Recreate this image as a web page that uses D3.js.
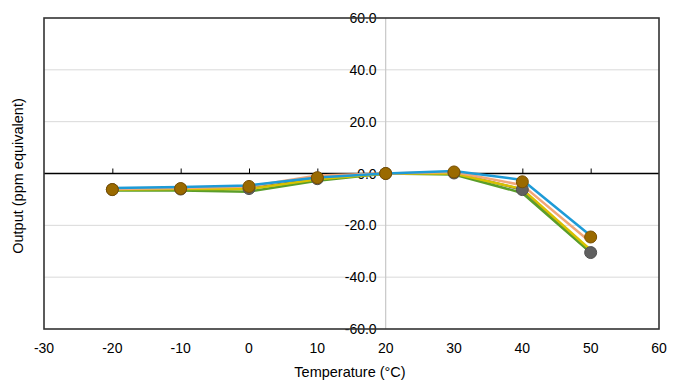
<!DOCTYPE html>
<html><head><meta charset="utf-8">
<script src="https://cdn.jsdelivr.net/npm/d3@7"></script>
<style>body{margin:0;background:#fff}svg{display:block}text{font-family:"Liberation Sans",Arial,sans-serif}</style>
</head><body><svg id="c" width="686" height="385"></svg>
<script>
const temps = [-20,-10,0,10,20,30,40,50];
const xTicks = [-30,-20,-10,0,10,20,30,40,50,60];
const yTicks = [-60,-40,-20,0,20,40,60];
const seriesBlue   = [-5.6,-5.2,-4.6,-1.5,0,1.0,-2.5,-24.0];
const seriesSalmon = [-6.0,-5.6,-5.0,-0.8,0,0.6,-4.5,-26.5];
const seriesYellow = [-6.2,-6.0,-6.0,-2.2,0,0.0,-6.0,-29.5];
const seriesGreen  = [-6.6,-6.6,-7.0,-2.8,0,-0.4,-7.5,-30.5];
const seriesGray   = [-6.2,-6.0,-5.8,-2.0,0,0.2,-6.2,-30.5];
const seriesBrown  = [-6.2,-5.8,-5.0,-1.6,0,0.6,-3.2,-24.5];
const lines = [
  {v:seriesGray,c:"#606060",m:true,mf:"#606060",ms:"#505050"},
  {v:seriesGreen,c:"#5a9e2a"},
  {v:seriesYellow,c:"#d8c200"},
  {v:seriesSalmon,c:"#f2a77a"},
  {v:seriesBlue,c:"#1e9bd7"},
  {v:seriesBrown,c:"#9a6a00",m:true,mf:"#9a6a00",ms:"#7a5000",noline:true}
];
const svg = d3.select("#c");
const L=44,R=659,T=18,B=329;
const x = d3.scaleLinear().domain([-30,60]).range([L,R]);
const y = d3.scaleLinear().domain([-60,60]).range([B,T]);
svg.append("g").selectAll("line").data(yTicks.filter(d=>d!==0&&Math.abs(d)!==60)).join("line")
  .attr("x1",L).attr("x2",R).attr("y1",d=>y(d)).attr("y2",d=>y(d)).attr("stroke","#d9d9d9").attr("stroke-width",1);
svg.append("line").attr("x1",x(20)).attr("x2",x(20)).attr("y1",T).attr("y2",B).attr("stroke","#c8c8c8").attr("stroke-width",1.2);
svg.append("g").selectAll("text").data(yTicks).join("text")
  .attr("x",x(20)-9).attr("y",d=>y(d)).attr("dy","0.36em").attr("text-anchor","end")
  .attr("font-size",14).attr("fill","#000").text(d=>d.toFixed(1));
const xAxis = d3.axisTop(x).tickValues(temps.filter(d=>d!==20)).tickSize(5).tickFormat("");
const gx = svg.append("g").attr("transform",`translate(0,${y(0)})`).call(xAxis);
gx.select(".domain").remove();
gx.selectAll("line").attr("stroke","#000").attr("stroke-width",1);
svg.append("line").attr("x1",L).attr("x2",R).attr("y1",y(0)).attr("y2",y(0)).attr("stroke","#000").attr("stroke-width",1.3);
svg.append("g").selectAll("text").data(xTicks).join("text")
  .attr("x",d=>x(d)).attr("y",353).attr("text-anchor","middle").attr("font-size",14).attr("fill","#000").text(d=>d);
const lg = d3.line().x((d,i)=>x(temps[i])).y(d=>y(d));
lines.forEach(s=>{
  if(!s.noline) svg.append("path").attr("d",lg(s.v)).attr("fill","none").attr("stroke",s.c).attr("stroke-width",2.5);
});
lines.forEach(s=>{
  if(s.m) svg.append("g").selectAll("circle").data(s.v).join("circle")
    .attr("cx",(d,i)=>x(temps[i])).attr("cy",d=>y(d)).attr("r",6)
    .attr("fill",s.mf).attr("stroke",s.ms).attr("stroke-width",1);
});
svg.append("rect").attr("x",L).attr("y",T).attr("width",R-L).attr("height",B-T)
  .attr("fill","none").attr("stroke","#333").attr("stroke-width",1.6);
svg.append("text").attr("x",350).attr("y",377).attr("text-anchor","middle").attr("font-size",14.5).text("Temperature (°C)");
svg.append("text").attr("transform","translate(23,176) rotate(-90)").attr("text-anchor","middle").attr("font-size",14.5).text("Output (ppm equivalent)");
</script></body></html>
